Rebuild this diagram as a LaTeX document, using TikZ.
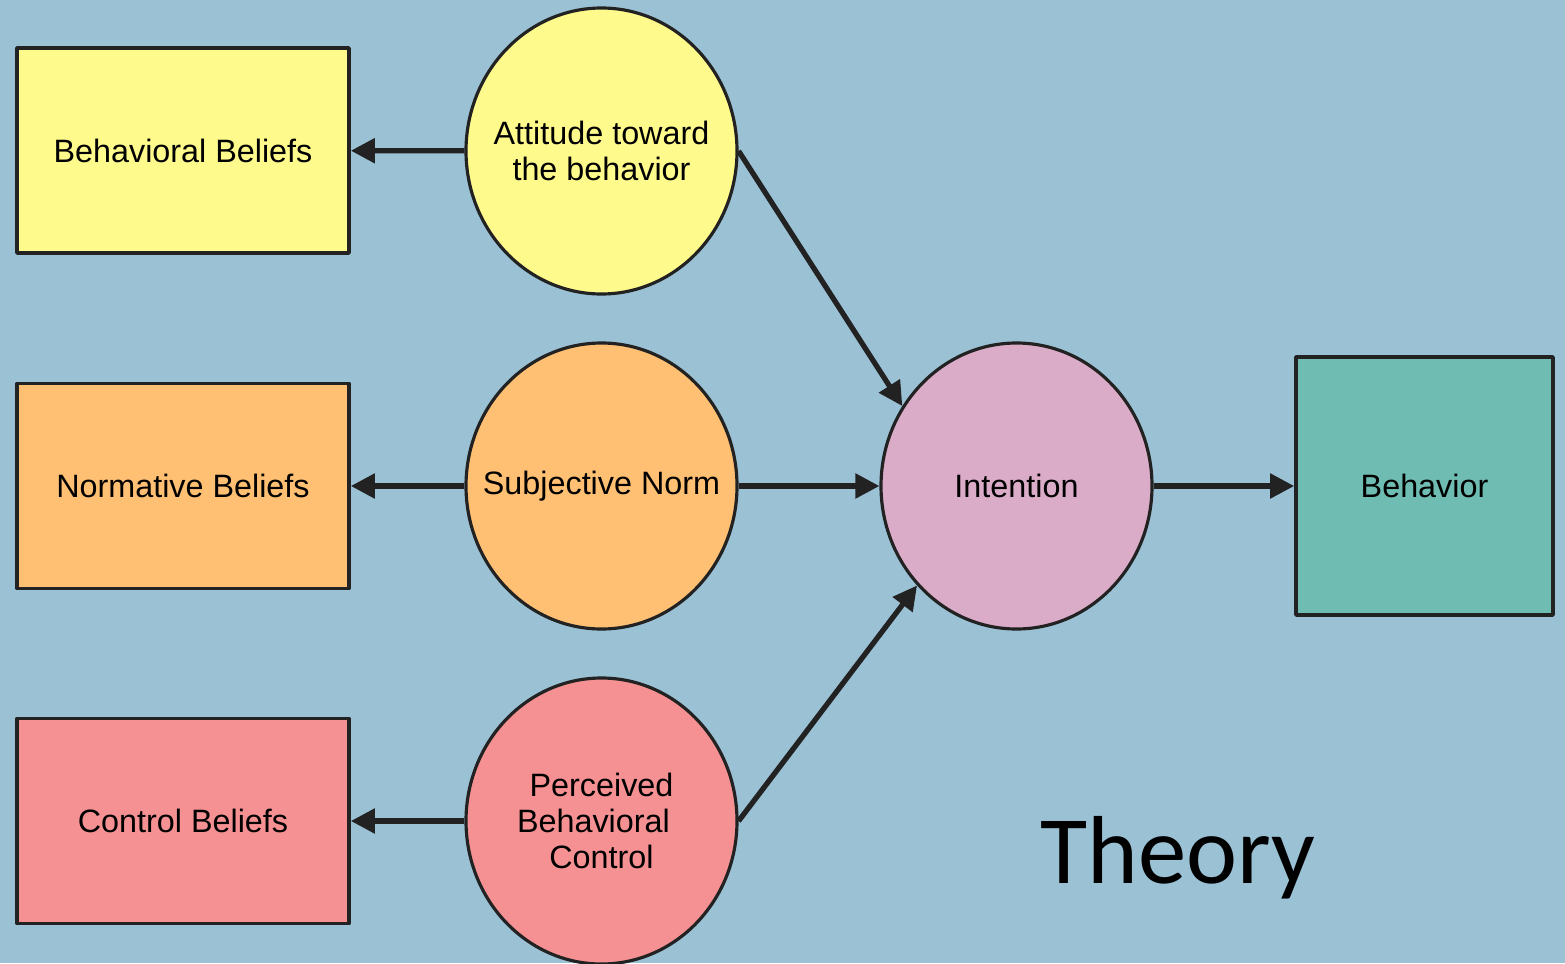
\documentclass[tikz,border=0pt]{standalone}
\usepackage{fontspec}
\setmainfont{Liberation Sans}
\newfontfamily\theoryfont{Carlito}
\usetikzlibrary{shapes.geometric,arrows.meta}
\definecolor{bgblue}{RGB}{155,193,213}
\definecolor{ylw}{RGB}{255,250,140}
\definecolor{orng}{RGB}{255,192,115}
\definecolor{rose}{RGB}{245,145,146}
\definecolor{mauve}{RGB}{218,172,200}
\definecolor{teal2}{RGB}{110,188,178}
\definecolor{ink}{RGB}{34,34,34}
\begin{document}
\begin{tikzpicture}[font=\fontsize{9.2}{10.3}\selectfont,line join=round,
	box/.style={draw=ink,line width=1.05pt,minimum width=3.32cm,minimum height=2.05cm,inner sep=0pt},
	blob/.style={ellipse,draw=ink,line width=0.9pt,minimum width=2.71cm,minimum height=2.86cm,inner sep=0pt},
	txt/.style={label={[align=center]center:#1}},
	arr/.style={draw=ink,line width=1.5pt,-{Triangle[length=0.24cm,width=0.24cm]}}]
	\useasboundingbox (0,0) rectangle (15.65,9.63);
	\fill[bgblue] (0,0) rectangle (15.65,9.63);
	\node[box,fill=ylw] (bb) at (1.83,8.125) {Behavioral Beliefs};
	\node[box,fill=orng] (nb) at (1.83,4.77) {Normative Beliefs};
	\node[box,fill=rose] (cb) at (1.83,1.42) {Control Beliefs};
	\node[blob,fill=ylw,txt={Attitude toward\\the behavior}] (att) at (6.015,8.12) {};
	\node[blob,fill=orng,txt={Subjective Norm}] (sn) at (6.015,4.77) {};
	\node[blob,fill=rose,txt={Perceived\\Behavioral\kern0.5em\\Control}] (pbc) at (6.015,1.42) {};
	\node[blob,fill=mauve,txt={Intention}] (int) at (10.165,4.77) {};
	\node[box,fill=teal2,minimum width=2.57cm,minimum height=2.58cm] (beh) at (14.245,4.77) {Behavior};
	\draw[arr] (att) -- (bb);
	\draw[arr] (sn) -- (nb);
	\draw[arr] (pbc) -- (cb);
	\draw[arr] (att.east) -- (int.145);
	\draw[arr] (sn) -- (int);
	\draw[arr] (pbc.east) -- (int.225);
	\draw[arr] (int) -- (beh);
	\node[anchor=base,font=\theoryfont\fontsize{27.5}{30}\selectfont] (theory) at (11.78,0.8) {Theory};
\end{tikzpicture}
\end{document}
